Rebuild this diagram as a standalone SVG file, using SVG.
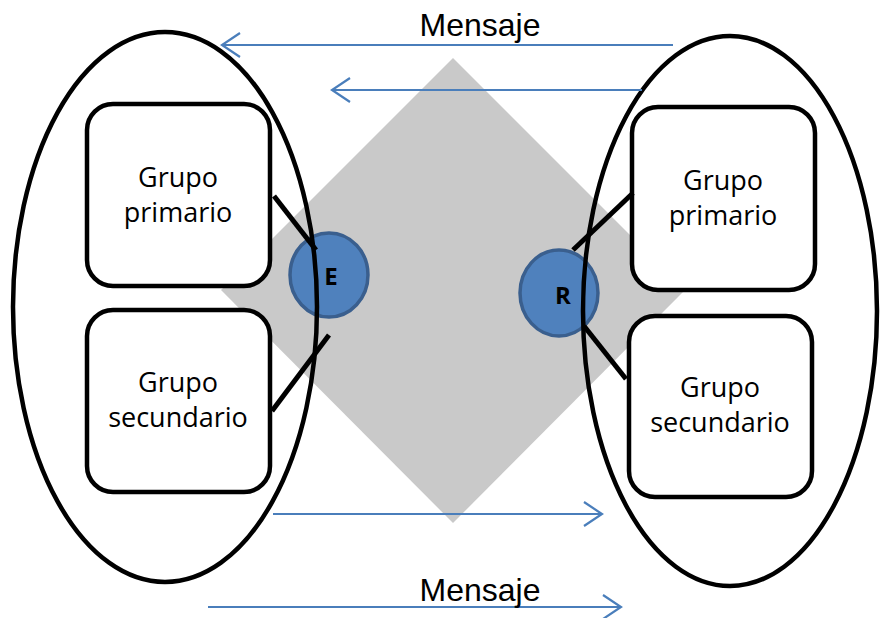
<svg xmlns="http://www.w3.org/2000/svg" width="881" height="618" viewBox="0 0 881 618">
  <defs>
    <style>
      .ring { fill: none; stroke: #000; stroke-width: 4.5; }
      .box { fill: #fff; stroke: #000; stroke-width: 4.5; }
      .lbl { font-family: "Open Sans", "DejaVu Sans", sans-serif; font-size: 27px; fill: #000; text-anchor: middle; }
      .node { fill: #4f81bd; stroke: #3a5f8e; stroke-width: 3.5; }
      .tie { stroke: #000; stroke-width: 5; fill: none; }
      .msg { stroke: #4a7ebb; stroke-width: 2.2; fill: none; }
      .cap { font-family: "Liberation Sans", Arial, sans-serif; font-size: 32px; fill: #000; text-anchor: middle; }
    </style>
    <marker id="head" markerWidth="22" markerHeight="26" refX="19" refY="13" orient="auto" markerUnits="userSpaceOnUse">
      <path d="M1,1 L19,13 L1,25" fill="none" stroke="#4a7ebb" stroke-width="2.2"/>
    </marker>
  </defs>

  <!-- shared field -->
  <polygon id="field" points="453,58 685,290 453,523 221,290" fill="#c9c9c9"/>

  <!-- sender and receiver -->
  <g id="node-E">
    <ellipse class="node" cx="329" cy="275" rx="39" ry="42"/>
    <text x="331" y="285" font-family="Open Sans, DejaVu Sans, sans-serif" font-weight="700" font-size="24" text-anchor="middle" fill="#000">E</text>
  </g>
  <g id="node-R">
    <ellipse class="node" cx="559" cy="293" rx="39" ry="43"/>
    <text x="563" y="304" font-family="Open Sans, DejaVu Sans, sans-serif" font-weight="700" font-size="24" text-anchor="middle" fill="#000">R</text>
  </g>

  <!-- environments -->
  <g id="left-ring"><ellipse class="ring" cx="165" cy="307" rx="152" ry="275"/></g>
  <g id="right-ring"><ellipse class="ring" cx="730" cy="311" rx="147" ry="275"/></g>

  <g id="left-primary">
    <rect class="box" x="87" y="104" width="183" height="182" rx="26"/>
    <text class="lbl" x="178" y="187">Grupo</text>
    <text class="lbl" x="178" y="222">primario</text>
  </g>
  <g id="left-secondary">
    <rect class="box" x="87" y="310" width="183" height="182" rx="26"/>
    <text class="lbl" x="178" y="392">Grupo</text>
    <text class="lbl" x="178" y="427">secundario</text>
  </g>
  <g id="right-primary">
    <rect class="box" x="632" y="107" width="183" height="183" rx="26"/>
    <text class="lbl" x="723" y="190">Grupo</text>
    <text class="lbl" x="723" y="225">primario</text>
  </g>
  <g id="right-secondary">
    <rect class="box" x="629" y="316" width="183" height="181" rx="26"/>
    <text class="lbl" x="720" y="397">Grupo</text>
    <text class="lbl" x="720" y="432">secundario</text>
  </g>

  <!-- connectors -->
  <g id="connectors">
    <line class="tie" x1="274" y1="196" x2="316" y2="250"/>
    <line class="tie" x1="329" y1="335" x2="272" y2="411"/>
    <line class="tie" x1="633" y1="193" x2="573" y2="250"/>
    <line class="tie" x1="584" y1="326" x2="626" y2="379"/>
    <line class="msg" x1="673" y1="45" x2="222" y2="45" marker-end="url(#head)"/>
    <line class="msg" x1="642" y1="90" x2="332" y2="90" marker-end="url(#head)"/>
    <line class="msg" x1="273" y1="514" x2="602" y2="514" marker-end="url(#head)"/>
    <line class="msg" x1="208" y1="607" x2="621" y2="607" marker-end="url(#head)"/>
  </g>

  <text class="cap" x="480" y="36">Mensaje</text>
  <text class="cap" x="480" y="601">Mensaje</text>
</svg>
